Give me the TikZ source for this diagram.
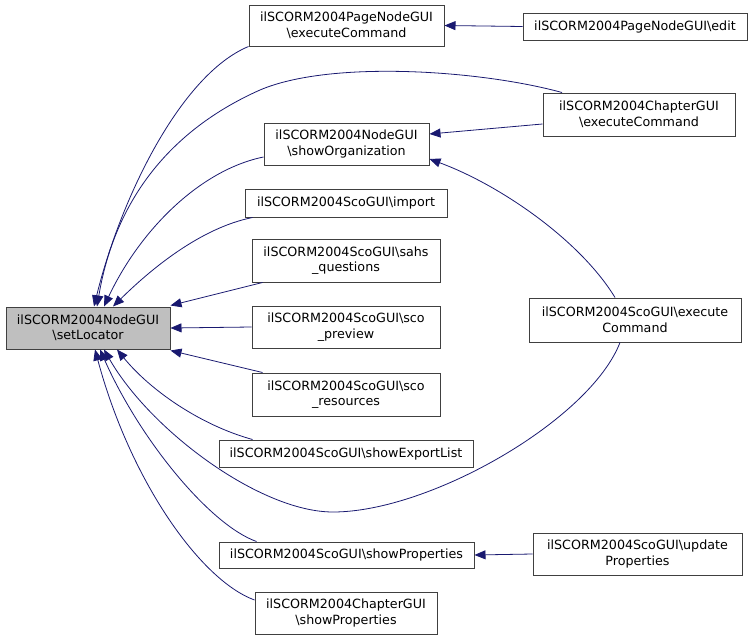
\documentclass[tikz,border=0pt]{standalone}
\usepackage{fontspec}
\setmainfont{DejaVu Sans}
\usetikzlibrary{arrows.meta}
\definecolor{midblue}{HTML}{191970}
\definecolor{boxgray}{HTML}{BFBFBF}
\definecolor{boxline}{HTML}{404040}
\begin{document}
\begin{tikzpicture}[x=1pt,y=-1pt,
  box/.style={draw=boxline, line width=1pt, fill=white, align=center,
    font=\fontsize{12.7}{15.5}\selectfont, inner sep=0pt, rectangle},
  link/.style={draw=midblue, line width=0.8pt, -{Triangle[length=11pt,width=9pt]}}]
\useasboundingbox (0,0) rectangle (752,640);
% nodes
\node[box, fill=boxgray, minimum width=164pt, minimum height=42pt] (main) at (88,328) {ilSCORM2004NodeGUI\\\textbackslash setLocator};
\node[box, minimum width=195pt, minimum height=41pt] (pne) at (346.5,25.5) {ilSCORM2004PageNodeGUI\\\textbackslash executeCommand};
\node[box, minimum width=224pt, minimum height=27pt] (edit) at (635,26.5) {ilSCORM2004PageNodeGUI\textbackslash edit};
\node[box, minimum width=192pt, minimum height=43pt] (che) at (639,114.5) {ilSCORM2004ChapterGUI\\\textbackslash executeCommand};
\node[box, minimum width=165pt, minimum height=42pt] (sho) at (346.5,144) {ilSCORM2004NodeGUI\\\textbackslash showOrganization};
\node[box, minimum width=202pt, minimum height=28pt] (imp) at (346,203) {ilSCORM2004ScoGUI\textbackslash import};
\node[box, minimum width=188pt, minimum height=43pt] (sahs) at (346,260.5) {ilSCORM2004ScoGUI\textbackslash sahs\\\_questions};
\node[box, minimum width=188pt, minimum height=42pt] (prev) at (346,327) {ilSCORM2004ScoGUI\textbackslash sco\\\_preview};
\node[box, minimum width=188pt, minimum height=43pt] (res) at (346,394.5) {ilSCORM2004ScoGUI\textbackslash sco\\\_resources};
\node[box, minimum width=254pt, minimum height=27pt] (exp) at (346,453.5) {ilSCORM2004ScoGUI\textbackslash showExportList};
\node[box, minimum width=212pt, minimum height=44pt] (sce) at (635,320) {ilSCORM2004ScoGUI\textbackslash execute\\Command};
\node[box, minimum width=255pt, minimum height=26pt] (sp) at (346.5,555) {ilSCORM2004ScoGUI\textbackslash showProperties};
\node[box, minimum width=182pt, minimum height=42pt] (chsp) at (346,613) {ilSCORM2004ChapterGUI\\\textbackslash showProperties};
\node[box, minimum width=209pt, minimum height=42pt] (upd) at (637.5,554) {ilSCORM2004ScoGUI\textbackslash update\\Properties};
% edges into setLocator
\draw[link] (pne.south west) .. controls (180,75) and (120,200) .. ([xshift=6pt]main.north);
\draw[link] ([xshift=-77pt]che.north) .. controls (480,70) and (330,60) .. (260,90) .. controls (170,130) and (115,200) .. ([xshift=9pt]main.north);
\draw[link] ([yshift=-13pt]sho.west) .. controls (200,170) and (140,230) .. ([xshift=16pt]main.north);
\draw[link] ([xshift=8pt]imp.south west) .. controls (200,228) and (150,270) .. ([xshift=25pt]main.north);
\draw[link] ([xshift=11pt]sahs.south west) -- ([yshift=1pt]main.north east);
\draw[link] (prev.west) -- (main.east);
\draw[link] ([xshift=11pt]res.north west) -- ([yshift=-1pt]main.south east);
\draw[link] ([xshift=34pt]exp.north west) .. controls (200,425) and (150,390) .. ([xshift=29pt]main.south);
\draw[link] ([xshift=-15pt]sce.south) .. controls (590,420) and (430,512) .. (333,512) .. controls (260,512) and (150,430) .. ([xshift=16pt]main.south);
\draw[link] ([xshift=38pt]sp.north west) .. controls (210,525) and (140,440) .. ([xshift=12pt]main.south);
\draw[link] ([yshift=13pt]chsp.west) .. controls (200,580) and (130,480) .. ([xshift=7pt]main.south);
% other edges
\draw[link] (edit.west) -- (pne.east);
\draw[link] ([yshift=-9.5pt]che.west) -- ([yshift=10pt]sho.east);
\draw[link] ([xshift=-20pt]sce.north) .. controls (580,240) and (500,185) .. ([yshift=-15pt]sho.east);
\draw[link] (upd.west) -- (sp.east);
\end{tikzpicture}
\end{document}
